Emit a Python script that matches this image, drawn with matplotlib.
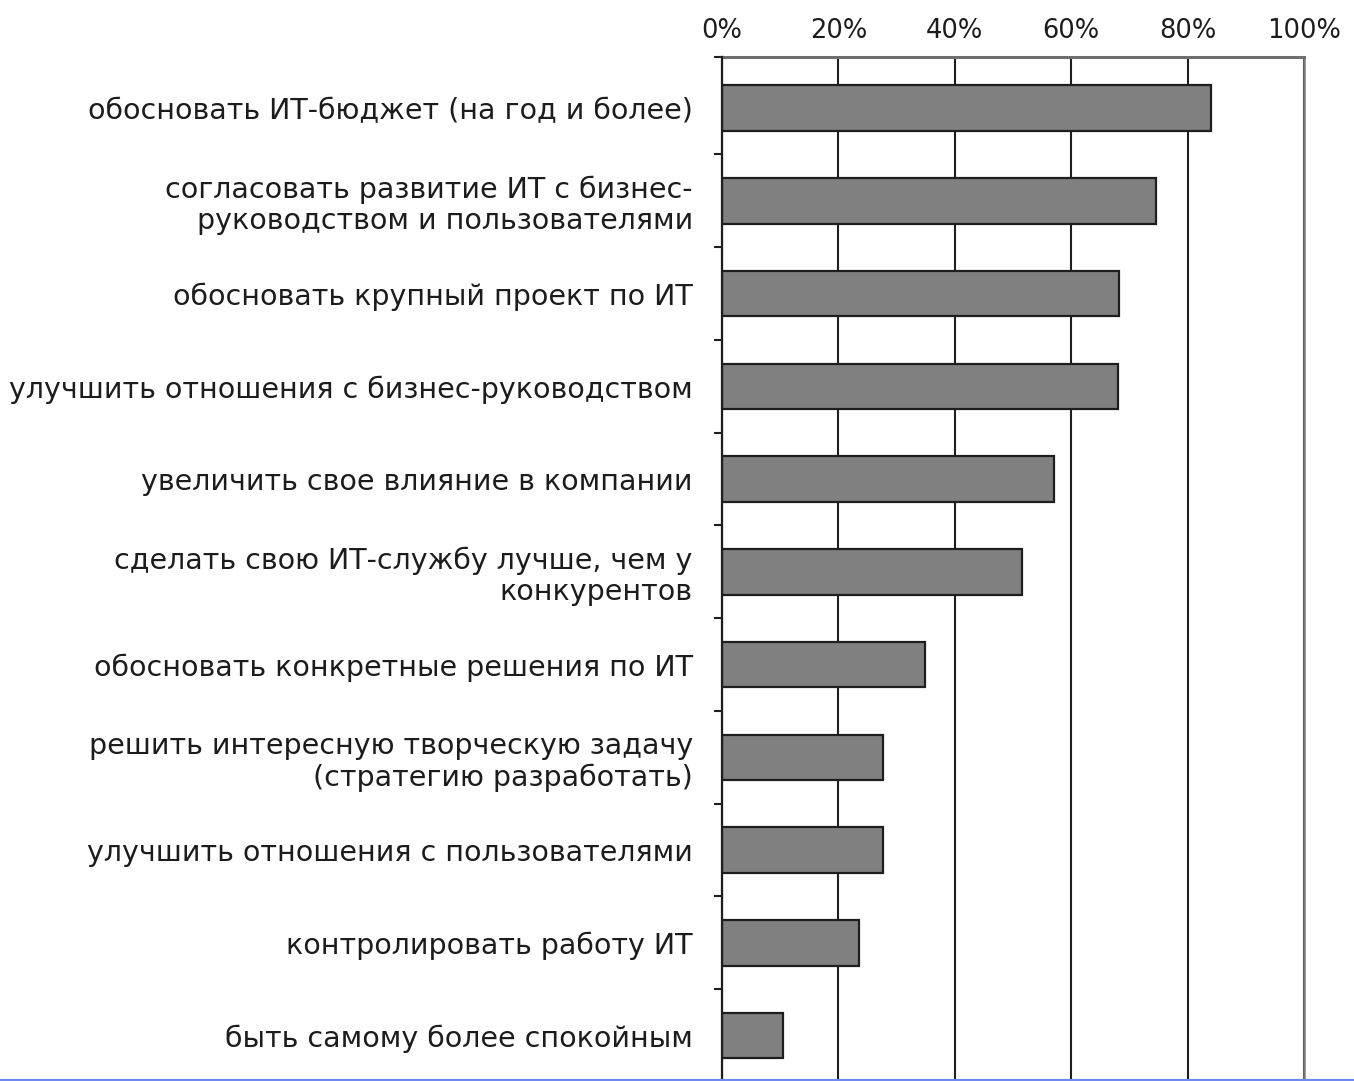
"""Horizontal bar chart: goals of IT strategy (share of respondents)."""

import matplotlib

matplotlib.use("Agg")

import matplotlib.pyplot as plt
from matplotlib.lines import Line2D
from matplotlib.ticker import FixedLocator, FuncFormatter

plt.rcParams["font.family"] = ["DejaVu Sans"]

labels = [
    "обосновать ИТ-бюджет (на год и более)",
    "согласовать развитие ИТ с бизнес-\nруководством и пользователями",
    "обосновать крупный проект по ИТ",
    "улучшить отношения с бизнес-руководством",
    "увеличить свое влияние в компании",
    "сделать свою ИТ-службу лучше, чем у\nконкурентов",
    "обосновать конкретные решения по ИТ",
    "решить интересную творческую задачу\n(стратегию разработать)",
    "улучшить отношения с пользователями",
    "контролировать работу ИТ",
    "быть самому более спокойным",
]
values = [84.1, 74.5, 68.2, 68.0, 57.0, 51.5, 34.8, 27.7, 27.7, 23.6, 10.4]
x_ticks = [0, 20, 40, 60, 80, 100]

W, H = 1354, 1081
fig = plt.figure(figsize=(W / 100, H / 100), dpi=100)
fig.patch.set_facecolor("white")

# axes spans from the top spine (y=57px) down past the bottom edge
left, right = 722 / W, 1304 / W
top_px, bot_px = 57, 1082
ax = fig.add_axes([left, 1 - bot_px / H, right - left, (bot_px - top_px) / H])

pos = list(range(len(labels)))
ax.barh(pos, values, height=0.49, color="#808080", edgecolor="#1e1e1e",
        linewidth=1.6, zorder=3)

ax.set_xlim(0, 100)
ax.set_ylim(len(labels) - 0.5, -0.55)

# x axis on top, percent labels, vertical grid lines
ax.xaxis.tick_top()
ax.set_xticks(x_ticks)
ax.xaxis.set_major_formatter(FuncFormatter(lambda v, _: f"{int(v)}%"))
ax.tick_params(axis="x", length=0, pad=9, labelsize=18.5, labelcolor="#1c1c1c")
ax.grid(axis="x", color="#1e1e1e", linewidth=1.5, zorder=1)

# category labels, with small ticks on the category boundaries
ax.set_yticks(pos)
ax.set_yticklabels(labels, linespacing=1.15)
ax.tick_params(axis="y", which="major", length=0, pad=21, labelsize=20.5,
               labelcolor="#1c1c1c")
ax.yaxis.set_minor_locator(FixedLocator([p + 0.5 for p in pos[:-1]] + [-0.55]))
ax.tick_params(axis="y", which="minor", length=6, width=1.5, color="#1e1e1e")

ax.spines["left"].set_color("#1e1e1e")
ax.spines["left"].set_linewidth(1.6)
ax.spines["left"].set_zorder(4)
ax.spines["top"].set_color("#6e6e6e")
ax.spines["top"].set_linewidth(2.2)
ax.spines["right"].set_color("#7a7a7a")
ax.spines["right"].set_linewidth(1.8)
ax.spines["bottom"].set_visible(False)

# thin blue rule along the bottom of the picture
fig.add_artist(Line2D([0, 1], [1 - 1079.5 / H] * 2, color="#6f88f2",
                      linewidth=1.6, transform=fig.transFigure))

fig.savefig("out.png", dpi=100, facecolor="white")
